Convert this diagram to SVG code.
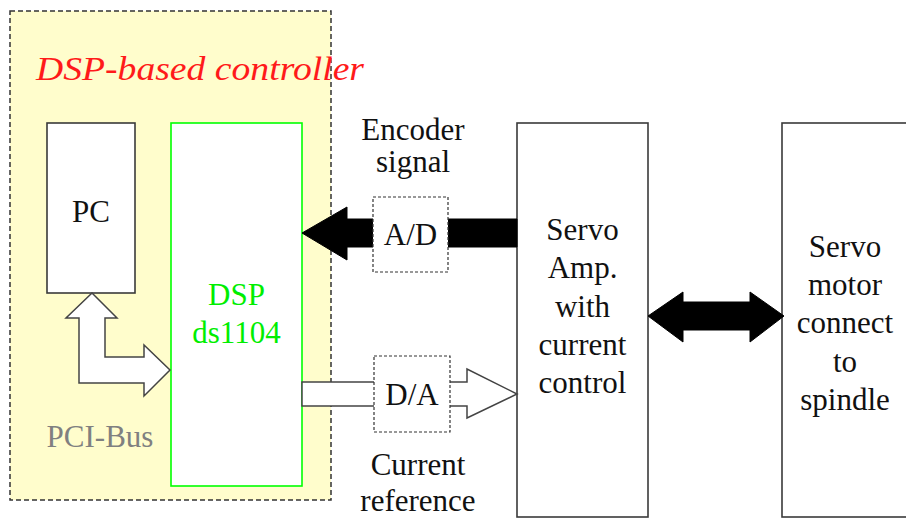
<svg xmlns="http://www.w3.org/2000/svg" width="906" height="518" viewBox="0 0 906 518">
  <style>
    .lbl { font-family: "Liberation Serif", "Noto Serif", "DejaVu Serif", "Times New Roman", Times, "FreeSerif", serif; font-size: 31px; fill: #111; text-anchor: middle; }
    .title { font-family: "Liberation Serif", "Noto Serif", "DejaVu Serif", "Times New Roman", Times, "FreeSerif", serif; font-style: italic; font-size: 33px; fill: #ff1a1a; }
    .box { fill: #ffffff; stroke: #3a3a3a; stroke-width: 1.6; }
    .conv { fill: #ffffff; stroke: #333; stroke-width: 1.2; stroke-dasharray: 3 2; }
    .solid { fill: #000; stroke: #000; stroke-width: 1; stroke-linejoin: round; }
    .hollow { fill: #ffffff; stroke: #444; stroke-width: 1.5; stroke-linejoin: miter; }
  </style>
  <rect width="906" height="518" fill="#ffffff"/>

  <!-- controller enclosure -->
  <g id="controller">
    <rect x="10" y="11" width="321" height="489" fill="#fffdcc" stroke="#333" stroke-width="1.5" stroke-dasharray="5 3"/>
    <text class="title" x="36" y="80" textLength="328" lengthAdjust="spacingAndGlyphs">DSP-based controller</text>
    <text class="lbl" x="100" y="447" style="fill:#808080">PCI-Bus</text>
  </g>

  <g id="pc">
    <rect class="box" x="47" y="123" width="88" height="170"/>
    <text class="lbl" x="91" y="222">PC</text>
  </g>

  <g id="dsp">
    <rect x="171" y="123" width="131" height="363" fill="#ffffff" stroke="#00ff00" stroke-width="1.6"/>
    <text class="lbl" x="236.5" y="305" style="fill:#00ee00">DSP</text>
    <text class="lbl" x="236.5" y="343" style="fill:#00ee00">ds1104</text>
  </g>

  <g id="servo-amp">
    <rect class="box" x="517" y="123" width="131" height="394"/>
    <text class="lbl" x="582.5" y="240">Servo</text>
    <text class="lbl" x="582.5" y="278">Amp.</text>
    <text class="lbl" x="582.5" y="317">with</text>
    <text class="lbl" x="582.5" y="355">current</text>
    <text class="lbl" x="582.5" y="393">control</text>
  </g>

  <g id="servo-motor">
    <rect class="box" x="782" y="123" width="140" height="394"/>
    <text class="lbl" x="845" y="257">Servo</text>
    <text class="lbl" x="845" y="295">motor</text>
    <text class="lbl" x="845" y="333">connect</text>
    <text class="lbl" x="845" y="372">to</text>
    <text class="lbl" x="845" y="410">spindle</text>
  </g>

  <g id="connectors">
    <!-- PCI bus: PC <-> DSP -->
    <polygon class="hollow" points="92,293 117,318 105,318 105,357 144,357 144,345 170,370 144,396 144,383 79,383 79,318 66,318"/>
    <!-- encoder feedback: amp -> DSP -->
    <polygon class="solid" points="517,219 347,219 347,207 302,233 347,260 347,247 517,247"/>
    <!-- current reference: DSP -> amp -->
    <polygon class="hollow" points="302,382 467,382 467,369 517,394 467,418 467,406 302,406"/>
    <!-- amp <-> motor -->
    <polygon class="solid" points="648,316 683,292 683,302 750,302 750,292 784,316 750,342 750,330 683,330 683,342"/>
  </g>

  <g id="adc">
    <rect class="conv" x="373" y="197" width="75" height="75"/>
    <text class="lbl" x="410.5" y="245">A/D</text>
  </g>

  <g id="dac">
    <rect class="conv" x="374" y="356" width="76" height="76"/>
    <text class="lbl" x="412" y="405">D/A</text>
  </g>

  <g id="labels">
    <text class="lbl" x="413" y="140">Encoder</text>
    <text class="lbl" x="413" y="172">signal</text>
    <text class="lbl" x="418" y="475">Current</text>
    <text class="lbl" x="418" y="511">reference</text>
  </g>
</svg>
